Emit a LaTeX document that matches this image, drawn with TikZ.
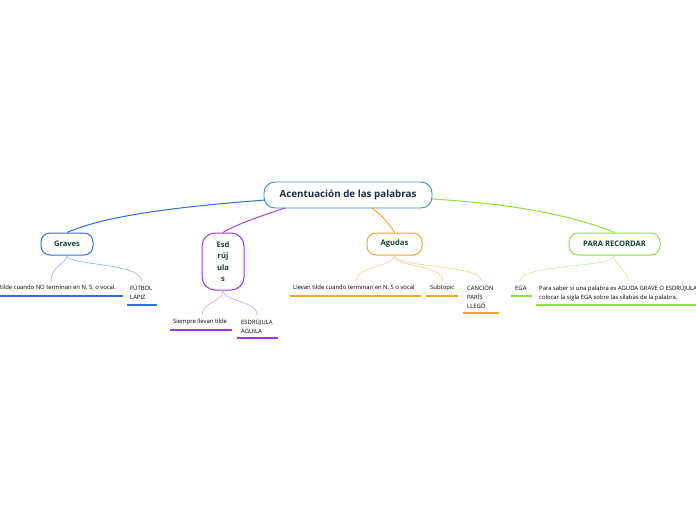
\documentclass[tikz,border=0pt]{standalone}
\usepackage{fontspec}
\setmainfont{Open Sans}
\definecolor{cblue}{HTML}{3B8AD9}
\definecolor{gblue}{HTML}{2E6FE8}
\definecolor{gbluel}{HTML}{8DB2F5}
\definecolor{cpur}{HTML}{A335E8}
\definecolor{cpurl}{HTML}{D39BF5}
\definecolor{corg}{HTML}{F5A623}
\definecolor{corgl}{HTML}{FAD08C}
\definecolor{cgrn}{HTML}{8EE33A}
\definecolor{cgrnl}{HTML}{C4F09A}
\definecolor{ctxt}{HTML}{163F2F}
\definecolor{cnavy}{HTML}{1B2B4B}
\begin{document}
\begin{tikzpicture}[x=1pt,y=-1pt,
  topic/.style={draw,line width=1pt,rounded corners=9pt,minimum height=22pt,inner sep=0pt,font=\fontsize{7.6}{9}\selectfont\bfseries,text=ctxt,align=center},
  sub/.style={anchor=west,inner sep=0pt,font=\fontsize{5.9}{9}\selectfont,text=black,align=left},
  uline/.style={line width=1.4pt},
  thin/.style={line width=0.6pt}]
\useasboundingbox (0,0) rectangle (696,520);
\clip (0,0) rectangle (696,520);
% central
\node[draw=cblue,line width=0.9pt,rounded corners=11pt,minimum width=168pt,minimum height=26pt,inner sep=0pt,font=\fontsize{9.8}{11}\selectfont\bfseries,text=cnavy] (c) at (348,195) {Acentuación de las palabras};
% topics
\node[topic,draw=gblue,minimum width=52pt] (g) at (67,244) {Graves};
\node[topic,draw=cpur,minimum width=42pt,minimum height=57pt,rounded corners=13pt,font=\fontsize{7.6}{11.5}\selectfont\bfseries] (e) at (223,261.5) {Esd\\rúj\\ula\\s};
\node[topic,draw=corg,minimum width=55pt] (a) at (394.5,244) {Agudas};
\node[topic,draw=cgrn,minimum width=91pt] (p) at (614.5,244) {PARA RECORDAR};
% main connectors
\coordinate (cg) at (265,200);
\coordinate (ce) at (285,208);
\coordinate (ca) at (372,208);
\coordinate (cp) at (432,199);
\draw[gblue,line width=1pt] (cg) .. controls (160,208) and (100,218) .. (g.north);
\draw[cpur,line width=0.9pt] (ce) .. controls (255,218) and (235,225) .. (e.north);
\draw[corg,line width=0.9pt] (ca) .. controls (382,215) and (390,225) .. (a.north);
\draw[cgrn,line width=1pt] (cp) .. controls (520,204) and (580,218) .. (p.north);
% Graves subtopics
\node[sub] (g1) at (0,288) {tilde cuando NO terminan en N, S, o vocal.};
\node[sub] (g2) at (130,292.5) {FÚTBOL\\LÁPIZ};
\coordinate (g1u) at (0,296); \coordinate (g1v) at (123,296);
\coordinate (g2u) at (127,305); \coordinate (g2v) at (157,305);
\draw[gblue,uline] (g1u) -- (g1v);
\draw[gblue,uline] (g2u) -- (g2v);
\coordinate (g1t) at (51,282); \coordinate (g2t) at (142,282);
\draw[gbluel,thin] (g.south) .. controls (67,264) and (51,265) .. (g1t);
\draw[gbluel,thin] (g.south) .. controls (67,266) and (142,262) .. (g2t);
% Esdrujulas subtopics
\node[sub] (e1) at (173,322) {Siempre llevan tilde};
\node[sub] (e2) at (241,326.5) {ESDRÚJULA\\ÁGUILA};
\coordinate (e1u) at (170,330); \coordinate (e1v) at (232,330);
\coordinate (e2u) at (237,338); \coordinate (e2v) at (278,338);
\draw[cpur,uline] (e1u) -- (e1v);
\draw[cpur,uline] (e2u) -- (e2v);
\coordinate (e1t) at (202,315); \coordinate (e2t) at (257,315);
\draw[cpurl,thin] (e.south) .. controls (223,302) and (202,302) .. (e1t);
\draw[cpurl,thin] (e.south) .. controls (223,302) and (257,300) .. (e2t);
% Agudas subtopics
\node[sub] (a1) at (293,288) {Llevan tilde cuando terminan en N, S o vocal};
\node[sub] (a2) at (430,288) {Subtopic};
\node[sub] (a3) at (467,297) {CANCIÓN\\PARÍS\\LLEGÓ};
\coordinate (a1u) at (290,296); \coordinate (a1v) at (421,296);
\coordinate (a2u) at (426,296); \coordinate (a2v) at (458,296);
\coordinate (a3u) at (463,313); \coordinate (a3v) at (499,313);
\draw[corg,uline] (a1u) -- (a1v);
\draw[corg,uline] (a2u) -- (a2v);
\draw[corg,uline] (a3u) -- (a3v);
\coordinate (a1t) at (356,281); \coordinate (a2t) at (443,281); \coordinate (a3t) at (481,281);
\draw[corgl,thin] (a.south) .. controls (394,267) and (356,266) .. (a1t);
\draw[corgl,thin] (a.south) .. controls (394,268) and (443,264) .. (a2t);
\draw[corgl,thin] (a.south) .. controls (394,268) and (481,264) .. (a3t);
% PARA RECORDAR subtopics
\node[sub] (p1) at (515,288) {EGA};
\node[sub] (p2) at (539,292.5) {Para saber si una palabra es AGUDA GRAVE O ESDRÚJULA\\colocar la sigla EGA sobre las sílabas de la palabra.};
\coordinate (p1u) at (511,296); \coordinate (p1v) at (532,296);
\coordinate (p2u) at (536,305); \coordinate (p2v) at (696,305);
\draw[cgrn,uline] (p1u) -- (p1v);
\draw[cgrn,uline] (p2u) -- (p2v);
\coordinate (p1t) at (520,281); \coordinate (p2t) at (628,281);
\draw[cgrnl,thin] (p.south) .. controls (614,268) and (520,264) .. (p1t);
\draw[cgrnl,thin] (p.south) .. controls (614,266) and (628,270) .. (p2t);
\end{tikzpicture}
\end{document}
